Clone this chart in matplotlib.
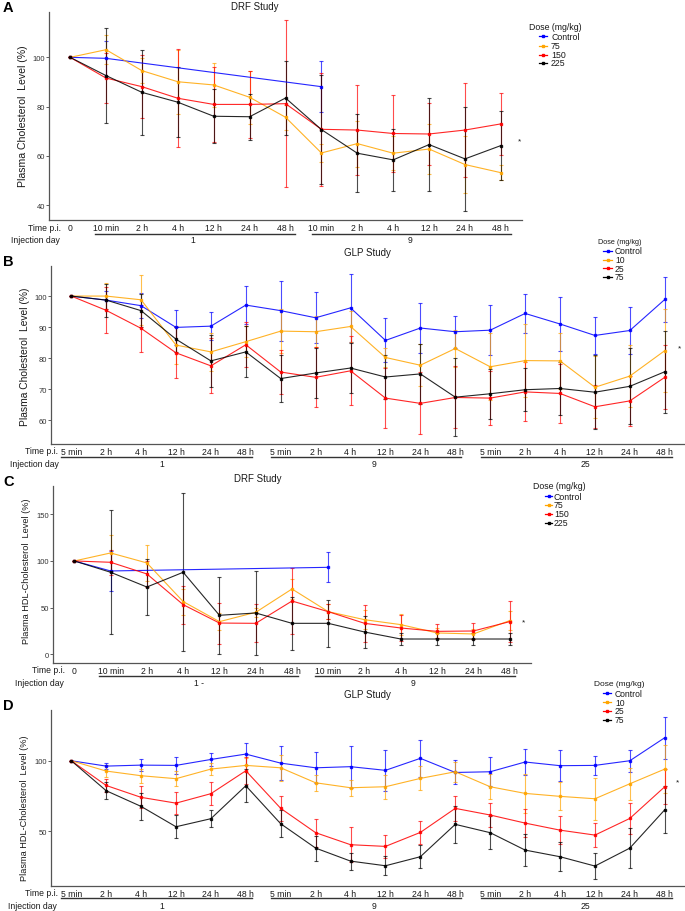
import matplotlib.pyplot as plt
import numpy as np
from matplotlib.lines import Line2D
from matplotlib.transforms import blended_transform_factory

plt.rcParams['font.family'] = ['Liberation Sans', 'DejaVu Sans']

nan = np.nan

# ---- data ----
drf_times = ['0', '10 min', '2 h', '4 h', '12 h', '24 h', '48 h',
             '10 min', '2 h', '4 h', '12 h', '24 h', '48 h']
glp_times = ['5 min', '2 h', '4 h', '12 h', '24 h', '48 h'] * 3
drf_doses = ['Control', '75', '150', '225']
glp_doses = ['Control', '10', '25', '75']
drf_days = ['1', '9']
glp_days = ['1', '9', '25']

# A: DRF, plasma cholesterol
a_control = [100, 99.6, nan, nan, nan, nan, nan, 88.1, nan, nan, nan, nan, nan]
a_control_sd = [0, 7, nan, nan, nan, nan, nan, 10.3, nan, nan, nan, nan, nan]
a_75 = [100, 103.1, 94.6, 90.1, 88.8, 83.8, 75.7, 61.2, 65.0, 61.1, 62.8, 56.5, 53.2]
a_75_sd = [0, 6, 5, 13, 8.8, 10.8, 5, 3.8, 9.3, 6.8, 10, 11.5, 3]
a_150 = [100, 91.6, 88.1, 83.4, 80.9, 80.9, 81.2, 70.8, 70.5, 69.1, 68.9, 70.5, 73.0]
a_150_sd = [0, 10, 12.7, 19.8, 15.3, 13.7, 33.8, 23, 18.3, 15.5, 12.5, 19, 12.5]
a_225 = [100, 92.6, 85.8, 81.8, 76.1, 75.9, 83.5, 70.7, 61.1, 58.4, 64.6, 58.8, 64.2]
a_225_sd = [0, 19.3, 17.2, 14.3, 11, 9.3, 15, 22, 15.8, 12.6, 19, 21, 14]

# B: GLP, plasma cholesterol
b_control = [100, 98.7, 96.9, 89.9, 90.3, 97.1, 95.3, 93.0, 96.2, 85.7, 89.7, 88.5,
             89.0, 94.4, 91.0, 87.3, 88.9, 98.9]
b_control_sd = [0, 2.8, 4, 5.6, 4.6, 6, 9.7, 8.2, 11, 7.1, 8, 5.2, 8.1, 6.2, 8.6, 6, 7.6, 7.4]
b_10 = [100, 100, 98.8, 84.2, 82.0, 85.3, 88.7, 88.5, 90.2, 80.2, 77.7, 83.1,
        77.2, 79.2, 79.1, 70.6, 74.2, 82.4]
b_10_sd = [0, 4.2, 8, 6, 6, 5, 7, 5, 5, 3, 6.8, 6, 10.8, 11.8, 9, 10, 10, 13.4]
b_25 = [100, 95.4, 89.6, 81.7, 77.5, 84.3, 75.5, 73.8, 75.9, 67.1, 65.4, 67.3,
        67.1, 69.1, 68.6, 64.3, 66.2, 73.8]
b_25_sd = [0, 7.4, 7.6, 8.2, 8.9, 7.2, 7, 9.7, 11.1, 9.8, 10, 10, 8.7, 9.5, 9.4, 7, 8, 10.3]
b_75 = [100, 98.7, 95.3, 86.1, 79.1, 82.0, 73.4, 75.2, 76.8, 73.9, 74.9, 67.4,
        68.5, 69.8, 70.2, 69.0, 70.9, 75.6]
b_75_sd = [0, 5.3, 5.4, 4, 8.3, 8.2, 7.6, 8, 8, 7, 9.6, 12.5, 8, 7, 8.5, 12, 12.3, 13.2]

# C: DRF, plasma HDL-cholesterol
c_control = [100, 89.3, nan, nan, nan, nan, nan, 93.2, nan, nan, nan, nan, nan]
c_control_sd = [0, 21, nan, nan, nan, nan, nan, 16, nan, nan, nan, nan, nan]
c_75 = [100, 108.6, 97.9, 56.5, 35, 45, 70, 45.7, 37.1, 31.8, 22.9, 21.8, 36.1]
c_75_sd = [0, 19, 19, 14, 9, 5, 11, 8, 10, 11, 5, 5, 10]
c_150 = [100, 98.6, 86.1, 53.2, 33.5, 33.2, 57.1, 45.7, 33.2, 28.2, 24.6, 25, 35]
c_150_sd = [0, 13.5, 14, 20.5, 22, 20.5, 35, 8, 20, 14, 7.5, 9, 22]
c_225 = [100, 87.9, 72.1, 87.9, 41.8, 44.3, 33.2, 33.2, 23.9, 16.4, 16.4, 16.4, 16.4]
c_225_sd = [0, 66.6, 30, 84.5, 41, 44.6, 28.6, 25.5, 17, 6, 6, 6, 6]

# D: GLP, plasma HDL-cholesterol
d_control = [100, 96.2, 96.9, 96.7, 100.9, 104.7, 98.3, 95.0, 95.8, 93.2, 101.7, 91.7,
             92.2, 99.1, 96.5, 96.7, 100, 116.3]
d_control_sd = [0, 2, 4, 6, 4.3, 7.6, 11.8, 11, 14.8, 14.6, 13, 8.5, 10.2, 9.2, 10.8, 6.8, 7.8, 14.8]
d_10 = [100, 92.7, 89.4, 87.3, 94.1, 96.7, 95.0, 84.4, 80.9, 81.6, 87.5, 92.2,
        81.6, 76.9, 74.8, 73.1, 83.7, 94.1]
d_10_sd = [0, 4, 5, 5.2, 4, 5, 9, 5.5, 5.7, 8.6, 8.5, 7, 9, 13.7, 10, 15, 11.5, 17]
d_25 = [100, 82.5, 74.1, 70.0, 76.7, 92.9, 66.3, 49.1, 40.6, 39.4, 49.3, 66.3,
        61.6, 55.9, 50.9, 47.4, 59.2, 81.6]
d_25_sd = [0, 4.5, 7.7, 7.6, 8, 9.5, 9, 10, 12.5, 8.2, 8, 9, 8.4, 9.9, 9.7, 8.5, 10.8, 12.5]
d_75 = [100, 78.8, 67.7, 53.3, 59.0, 82.3, 55.4, 38.2, 29.0, 25.7, 32.1, 55.0,
        49.1, 36.8, 32.1, 25.5, 38.2, 65.3]
d_75_sd = [0, 6, 9.4, 8.3, 6.1, 11.8, 9.4, 8.8, 6, 6.6, 8, 12.9, 11.6, 11.1, 10.4, 8.9, 14.2, 16.6]

colors = ['#0000FF', '#FFA500', '#FF0000', '#000000']

W, H = 685, 912
fig = plt.figure(figsize=(W / 100, H / 100), dpi=100)
TXT = '#1a1a1a'


def fx(px):
    return px / W


def fy(py):
    return 1 - py / H


def panel(box, letter, title, title_xy, ylabel, ylabel_xy, ylabel_size,
          times, series, sds, doses, ylim, yticks, days, day_spans, day_pos,
          row_y, tp_x, inj_x, leg, star_xy, leg_title_size=6.3):
    left, top, right, bottom = box
    ax = fig.add_axes([fx(left), fy(bottom), fx(right) - fx(left), (bottom - top) / H])
    x = np.arange(len(times))
    for vals, sd, col in zip(series, sds, colors):
        v = np.array(vals, float)
        s = np.array(sd, float)
        ok = ~np.isnan(v)
        ax.errorbar(x[ok], v[ok], yerr=s[ok], fmt='none', ecolor=col,
                    elinewidth=0.8, capsize=1.3, capthick=0.8, alpha=0.7, zorder=2)
        ax.plot(x[ok], v[ok], color=col, lw=0.8, marker='s', ms=1.8,
                alpha=0.85, zorder=3)
    ax.set_xlim(-0.58, len(times) - 1 + 0.58)
    ax.set_ylim(*ylim)
    ax.set_yticks(yticks)
    ax.set_xticks(x)
    ax.set_xticklabels(times, fontsize=6.2, color=TXT)
    ax.tick_params(axis='x', length=0, pad=2.2)
    ax.tick_params(axis='y', length=2, width=0.6, color='#444444', pad=1,
                   labelsize=5.5, labelcolor='#333333')
    for side in ['top', 'right']:
        ax.spines[side].set_visible(False)
    for side in ['left', 'bottom']:
        ax.spines[side].set_color('#555555')
        ax.spines[side].set_linewidth(0.9)
    ax.patch.set_alpha(0)

    fig.text(fx(3), fy(box[1] - 5), letter, fontsize=10.5, fontweight='bold',
             va='center', ha='left')
    fig.text(fx(title_xy[0]), fy(title_xy[1]), title, fontsize=7, ha='center',
             va='center', color=TXT)
    fig.text(fx(ylabel_xy[0]), fy(ylabel_xy[1]), ylabel, fontsize=ylabel_size,
             rotation=90, ha='center', va='center', color=TXT)

    # time / injection day rows
    ul_y, day_y = row_y
    fig.text(fx(tp_x), fy(day_y - (day_y - ul_y) - 6.2), 'Time p.i.', fontsize=6.2,
             ha='center', va='center', color=TXT)
    fig.text(fx(inj_x), fy(day_y), 'Injection day', fontsize=6.2,
             ha='center', va='center', color=TXT)
    tr = blended_transform_factory(ax.transData, fig.transFigure)
    for name, (s0, s1), p in zip(days, day_spans, day_pos):
        ax.add_line(Line2D([s0, s1], [fy(ul_y), fy(ul_y)], transform=tr,
                           color='#333333', lw=1.0, clip_on=False))
        ax.text(p, fy(day_y), name, transform=tr, fontsize=6.2, ha='center',
                va='center', color=TXT)

    # legend
    t_x, t_y, h0, h1, tx, rows, esize = leg
    fig.text(fx(t_x), fy(t_y), 'Dose (mg/kg)', fontsize=leg_title_size,
             ha='left', va='center', color=TXT)
    for lab, col, ry in zip(doses, colors, rows):
        fig.add_artist(Line2D([fx(h0), fx(h1)], [fy(ry), fy(ry)], color=col, lw=0.9,
                              transform=fig.transFigure))
        fig.add_artist(Line2D([fx((h0 + h1) / 2)], [fy(ry)], color=col, marker='s',
                              ms=2, lw=0, transform=fig.transFigure))
        fig.text(fx(tx), fy(ry), lab, fontsize=esize, ha='left', va='center',
                 color=TXT)
    fig.text(fx(star_xy[0]), fy(star_xy[1]), '*', fontsize=6, ha='center',
             va='center', color=TXT)
    return ax


panel((49.3, 13, 521.7, 221), 'A', 'DRF Study', (255, 7),
      'Plasma Cholesterol  Level (%)', (23, 116), 7.6,
      drf_times, [a_control, a_75, a_150, a_225],
      [a_control_sd, a_75_sd, a_150_sd, a_225_sd], drf_doses,
      (34, 118.4), [40, 60, 80, 100], drf_days,
      [(0.7, 6.27), (6.74, 12.28)], [3.43, 9.47],
      (235, 241), 44, 35.5,
      (529, 28, 539, 547, 551, [37, 46.7, 55.7, 64], 6.3), (520, 142))

panel((51, 267.3, 685, 445), 'B', 'GLP Study', (367, 253),
      'Plasma Cholesterol  Level (%)', (25, 357), 7.4,
      glp_times, [b_control, b_10, b_25, b_75],
      [b_control_sd, b_10_sd, b_25_sd, b_75_sd], glp_doses,
      (52.3, 109.6), [60, 70, 80, 90, 100], glp_days,
      [(-0.28, 5.17), (5.73, 11.17), (11.75, 17.2)], [2.59, 8.66, 14.74],
      (457.7, 464.5), 41.7, 34,
      (598, 242.7, 603, 612, 615, [252, 260.7, 269.3, 277.7], 6.2), (679, 349),
      leg_title_size=5.2)

panel((53.3, 487.3, 530.7, 664), 'C', 'DRF Study', (258, 479),
      'Plasma HDL-Cholesterol  Level (%)', (27, 571), 6.6,
      drf_times, [c_control, c_75, c_150, c_225],
      [c_control_sd, c_75_sd, c_150_sd, c_225_sd], drf_doses,
      (-9.3, 180), [0, 50, 100, 150], ['1 -', '9'],
      [(0.69, 6.17), (6.64, 12.15)], [3.45, 9.34],
      (677, 683.3), 48, 39,
      (533, 486.7, 545, 552, 554, [497.3, 506, 515, 523.7], 6.3), (524, 623))

panel((51, 710.7, 685, 886.7), 'D', 'GLP Study', (367, 695),
      'Plasma HDL-Cholesterol  Level (%)', (25, 808), 6.6,
      glp_times, [d_control, d_10, d_25, d_75],
      [d_control_sd, d_10_sd, d_25_sd, d_75_sd], glp_doses,
      (11.6, 136.1), [50, 100], glp_days,
      [(-0.28, 5.17), (5.73, 11.17), (11.75, 17.2)], [2.59, 8.66, 14.74],
      (899.3, 906.7), 41.5, 32.5,
      (594, 684.7, 603, 611, 615, [694.3, 703.3, 712, 720.7], 6.2), (678, 783.3),
      leg_title_size=6.0)

fig.savefig('out.png', dpi=100)
